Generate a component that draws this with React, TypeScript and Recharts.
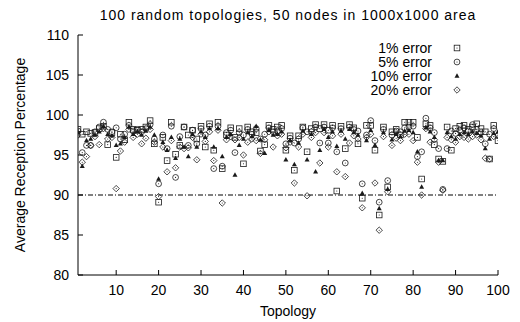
import React from 'react';
import { ScatterChart, Scatter, XAxis, YAxis, ReferenceLine, Legend } from 'recharts';

// topology index 1..100
const topologies = [
  1, 2, 3, 4, 5, 6, 7, 8, 9, 10, 11, 12, 13, 14, 15, 16, 17, 18, 19, 20,
  21, 22, 23, 24, 25, 26, 27, 28, 29, 30, 31, 32, 33, 34, 35, 36, 37, 38, 39, 40,
  41, 42, 43, 44, 45, 46, 47, 48, 49, 50, 51, 52, 53, 54, 55, 56, 57, 58, 59, 60,
  61, 62, 63, 64, 65, 66, 67, 68, 69, 70, 71, 72, 73, 74, 75, 76, 77, 78, 79, 80,
  81, 82, 83, 84, 85, 86, 87, 88, 89, 90, 91, 92, 93, 94, 95, 96, 97, 98, 99, 100,
];

// average reception percentage per topology
const err1 = [
  98.2, 97.6, 97.9, 97.7, 97.8, 98.3, 98.6, 96.3, 97.8, 94.7,
  97.6, 96.9, 99.1, 98.2, 98.1, 98.2, 98.5, 99.3, 96.4, 89.1,
  97.2, 94.3, 99.1, 95.1, 96.2, 98.5, 97.5, 98.1, 97.0, 98.6,
  96.0, 98.9, 95.6, 99.1, 93.3, 97.5, 98.4, 97.2, 98.3, 93.9,
  98.5, 97.9, 97.8, 95.5, 96.3, 98.7, 98.2, 98.5, 98.7, 95.6,
  97.4, 93.1, 97.4, 98.5, 95.4, 98.3, 98.8, 98.3, 98.8, 98.1,
  98.7, 90.5, 98.6, 95.8, 98.8, 98.4, 96.4, 89.6, 98.7, 98.7,
  95.6, 87.5, 98.5, 91.0, 97.9, 98.2, 97.5, 99.1, 99.1, 99.1,
  97.2, 92.0, 98.9, 98.7, 96.3, 94.5, 94.2, 98.5, 95.6, 98.3,
  98.6, 98.7, 98.2, 98.5, 98.9, 98.3, 97.9, 94.5, 98.7, 96.8,
];
const err5 = [
  98.0, 95.3, 96.2, 96.2, 97.9, 98.5, 99.1, 98.2, 97.9, 98.4,
  97.0, 97.6, 98.7, 98.0, 98.2, 97.9, 98.3, 98.8, 97.0, 91.4,
  97.5, 95.8, 98.6, 92.2, 97.3, 98.5, 96.2, 98.1, 96.4, 98.3,
  97.5, 98.6, 93.3, 98.6, 93.6, 97.8, 98.1, 95.3, 97.8, 97.5,
  98.2, 97.6, 98.3, 97.0, 97.6, 98.4, 97.9, 98.0, 98.3, 96.4,
  97.1, 96.5, 97.0, 98.4, 97.9, 97.9, 98.5, 96.5, 98.5, 96.5,
  98.4, 95.4, 98.3, 94.0, 98.5, 98.2, 98.0, 91.4, 97.5, 99.3,
  96.8, 89.1, 98.2, 91.8, 97.5, 98.0, 97.9, 98.4, 98.5, 98.6,
  94.8, 95.4, 99.6, 98.4, 97.8, 95.8, 90.7, 95.8, 98.0, 97.7,
  98.1, 98.4, 98.0, 98.8, 98.2, 97.8, 96.4, 97.6, 98.3, 97.4,
];
const err10 = [
  97.8, 93.6, 96.8, 97.0, 97.5, 97.9, 98.6, 97.6, 97.4, 96.2,
  96.4, 97.2, 98.5, 97.6, 97.9, 97.5, 98.0, 98.5, 97.5, 92.0,
  96.6, 95.6, 97.2, 94.6, 97.0, 96.0, 94.8, 97.6, 96.0, 97.9,
  97.2, 98.3, 96.0, 98.3, 94.8, 97.2, 97.6, 92.5, 96.2, 97.0,
  97.8, 97.3, 98.6, 96.9, 95.2, 98.1, 97.5, 97.6, 97.9, 94.4,
  96.8, 93.8, 96.5, 98.0, 94.4, 97.6, 92.9, 95.6, 98.2, 97.2,
  97.9, 96.1, 98.0, 97.0, 98.2, 97.8, 97.5, 90.2, 96.8, 98.1,
  96.2, 88.3, 97.8, 90.7, 96.9, 97.6, 97.3, 98.0, 98.1, 97.8,
  95.4, 91.0, 98.4, 97.9, 97.2, 94.3, 94.3, 97.8, 97.3, 97.0,
  97.6, 97.8, 97.6, 97.9, 97.7, 97.4, 95.8, 97.0, 97.7, 97.9,
];
const err20 = [
  97.5, 94.1, 94.8, 96.2, 97.3, 96.3, 98.3, 97.0, 97.2, 90.8,
  95.5, 96.6, 98.2, 97.2, 97.6, 96.4, 97.1, 98.2, 96.6, 89.8,
  96.0, 92.9, 96.8, 93.4, 96.0, 95.8, 95.9, 97.2, 94.4, 97.6,
  96.7, 97.9, 94.3, 98.1, 89.0, 96.9, 97.3, 96.9, 97.2, 95.0,
  96.6, 97.0, 96.8, 95.2, 96.9, 97.9, 96.0, 97.4, 97.6, 95.9,
  96.6, 91.5, 96.0, 97.6, 89.9, 97.2, 97.8, 94.0, 97.8, 96.0,
  97.4, 92.9, 97.6, 92.3, 96.5, 97.4, 97.0, 88.4, 97.2, 97.6,
  91.5, 85.6, 97.3, 90.4, 96.2, 97.1, 96.8, 97.6, 97.6, 96.8,
  94.1, 90.0, 98.3, 96.6, 96.9, 94.1, 90.6, 97.2, 96.9, 96.6,
  97.3, 97.2, 97.0, 97.3, 97.5, 96.9, 94.6, 94.5, 97.3, 97.5,
];

const seriesNames = ['1% error', '5% error', '10% error', '20% error'];
const xTicks = [10, 20, 30, 40, 50, 60, 70, 80, 90, 100];
const yTicks = [80, 85, 90, 95, 100, 105, 110];

const FONT = '"Liberation Sans", Arial, Helvetica, sans-serif';
const INK = '#000';
const PT = '#1a1a1a';

const toPoints = (vals: number[]) => topologies.map((t, i) => ({ t, v: vals[i] }));

// gnuplot-ish point types
const square = (cx: number, cy: number) => (
  <g>
    <rect x={cx - 2.8} y={cy - 2.8} width={5.6} height={5.6} fill="none" stroke={PT} strokeWidth={0.8} />
    <circle cx={cx} cy={cy} r={0.55} fill={PT} />
  </g>
);
const circle = (cx: number, cy: number) => (
  <g>
    <circle cx={cx} cy={cy} r={2.9} fill="none" stroke={PT} strokeWidth={0.8} />
    <circle cx={cx} cy={cy} r={0.55} fill={PT} />
  </g>
);
const triangle = (cx: number, cy: number) => (
  <path d={`M${cx},${cy - 2.8}L${cx + 2.5},${cy + 1.7}L${cx - 2.5},${cy + 1.7}Z`} fill={PT} />
);
const diamond = (cx: number, cy: number) => (
  <g>
    <path
      d={`M${cx},${cy - 3.2}L${cx + 3.2},${cy}L${cx},${cy + 3.2}L${cx - 3.2},${cy}Z`}
      fill="none"
      stroke={PT}
      strokeWidth={0.8}
    />
    <circle cx={cx} cy={cy} r={0.55} fill={PT} />
  </g>
);
const markers = [square, circle, triangle, diamond];
const seriesData = [err1, err5, err10, err20];

const LegendBox = () => (
  <div style={{ fontFamily: FONT, fontSize: 14, color: INK }}>
    {seriesNames.map((n, i) => (
      <div key={n} style={{ display: 'flex', alignItems: 'center', height: 14 }}>
        <span style={{ width: 80, textAlign: 'right', lineHeight: '14px', whiteSpace: 'nowrap' }}>{n}</span>
        <svg width={32} height={14} style={{ display: 'block' }}>
          {markers[i](25, 7)}
        </svg>
      </div>
    ))}
  </div>
);

export default function App() {
  const tickStyle = { fontFamily: FONT, fontSize: 14, fill: INK };
  return (
    <div style={{ position: 'absolute', left: 0, top: 0, width: 520, height: 322, background: '#fff' }}>
      <div
        style={{
          position: 'absolute',
          left: 78,
          width: 420,
          top: 7,
          textAlign: 'center',
          fontFamily: FONT,
          fontSize: 14,
          letterSpacing: 1,
          lineHeight: '16px',
          color: INK,
          whiteSpace: 'nowrap',
        }}
      >
        100 random topologies, 50 nodes in 1000x1000 area
      </div>
      <ScatterChart width={520} height={322} margin={{ top: 35, right: 22, bottom: 0, left: 0 }}>
        <XAxis
          xAxisId="b"
          dataKey="t"
          type="number"
          orientation="bottom"
          domain={[1, 100]}
          allowDataOverflow
          ticks={xTicks}
          height={47}
          tickSize={-5}
          tickMargin={15}
          tick={tickStyle}
          stroke={INK}
          axisLine={{ stroke: INK }}
          tickLine={{ stroke: INK }}
          label={{ value: 'Topology', position: 'insideBottom', offset: 6, style: { fontFamily: FONT, fontSize: 14, fill: INK } }}
        />
        <XAxis
          xAxisId="t"
          type="number"
          orientation="top"
          domain={[1, 100]}
          allowDataOverflow
          ticks={xTicks}
          height={0}
          tickSize={-5}
          tick={false}
          axisLine={{ stroke: INK }}
          tickLine={{ stroke: INK }}
        />
        <YAxis
          yAxisId="l"
          dataKey="v"
          type="number"
          orientation="left"
          domain={[80, 110]}
          allowDataOverflow
          ticks={yTicks}
          width={78}
          tickSize={-5}
          tickMargin={14}
          tick={tickStyle}
          axisLine={{ stroke: INK }}
          tickLine={{ stroke: INK }}
          label={{
            value: 'Average Reception Percentage',
            angle: -90,
            position: 'insideLeft',
            offset: 20,
            style: { textAnchor: 'middle', fontFamily: FONT, fontSize: 14, fill: INK },
          }}
        />
        <YAxis
          yAxisId="r"
          type="number"
          orientation="right"
          domain={[80, 110]}
          allowDataOverflow
          ticks={yTicks}
          width={0}
          tickSize={-5}
          tick={false}
          axisLine={{ stroke: INK }}
          tickLine={{ stroke: INK }}
        />
        <ReferenceLine
          xAxisId="b"
          yAxisId="l"
          y={90}
          stroke={INK}
          strokeWidth={1}
          strokeDasharray="5 2 1 2"
        />
        <Legend
          layout="vertical"
          align="center"
          verticalAlign="middle"
          wrapperStyle={{ top: 41, left: 352, width: 112 }}
          content={<LegendBox />}
        />
        {seriesData.map((vals, i) => (
          <Scatter
            key={seriesNames[i]}
            name={seriesNames[i]}
            xAxisId="b"
            yAxisId="l"
            data={toPoints(vals)}
            isAnimationActive={false}
            shape={(p: any) => markers[i](p.cx, p.cy)}
          />
        ))}
      </ScatterChart>
    </div>
  );
}
